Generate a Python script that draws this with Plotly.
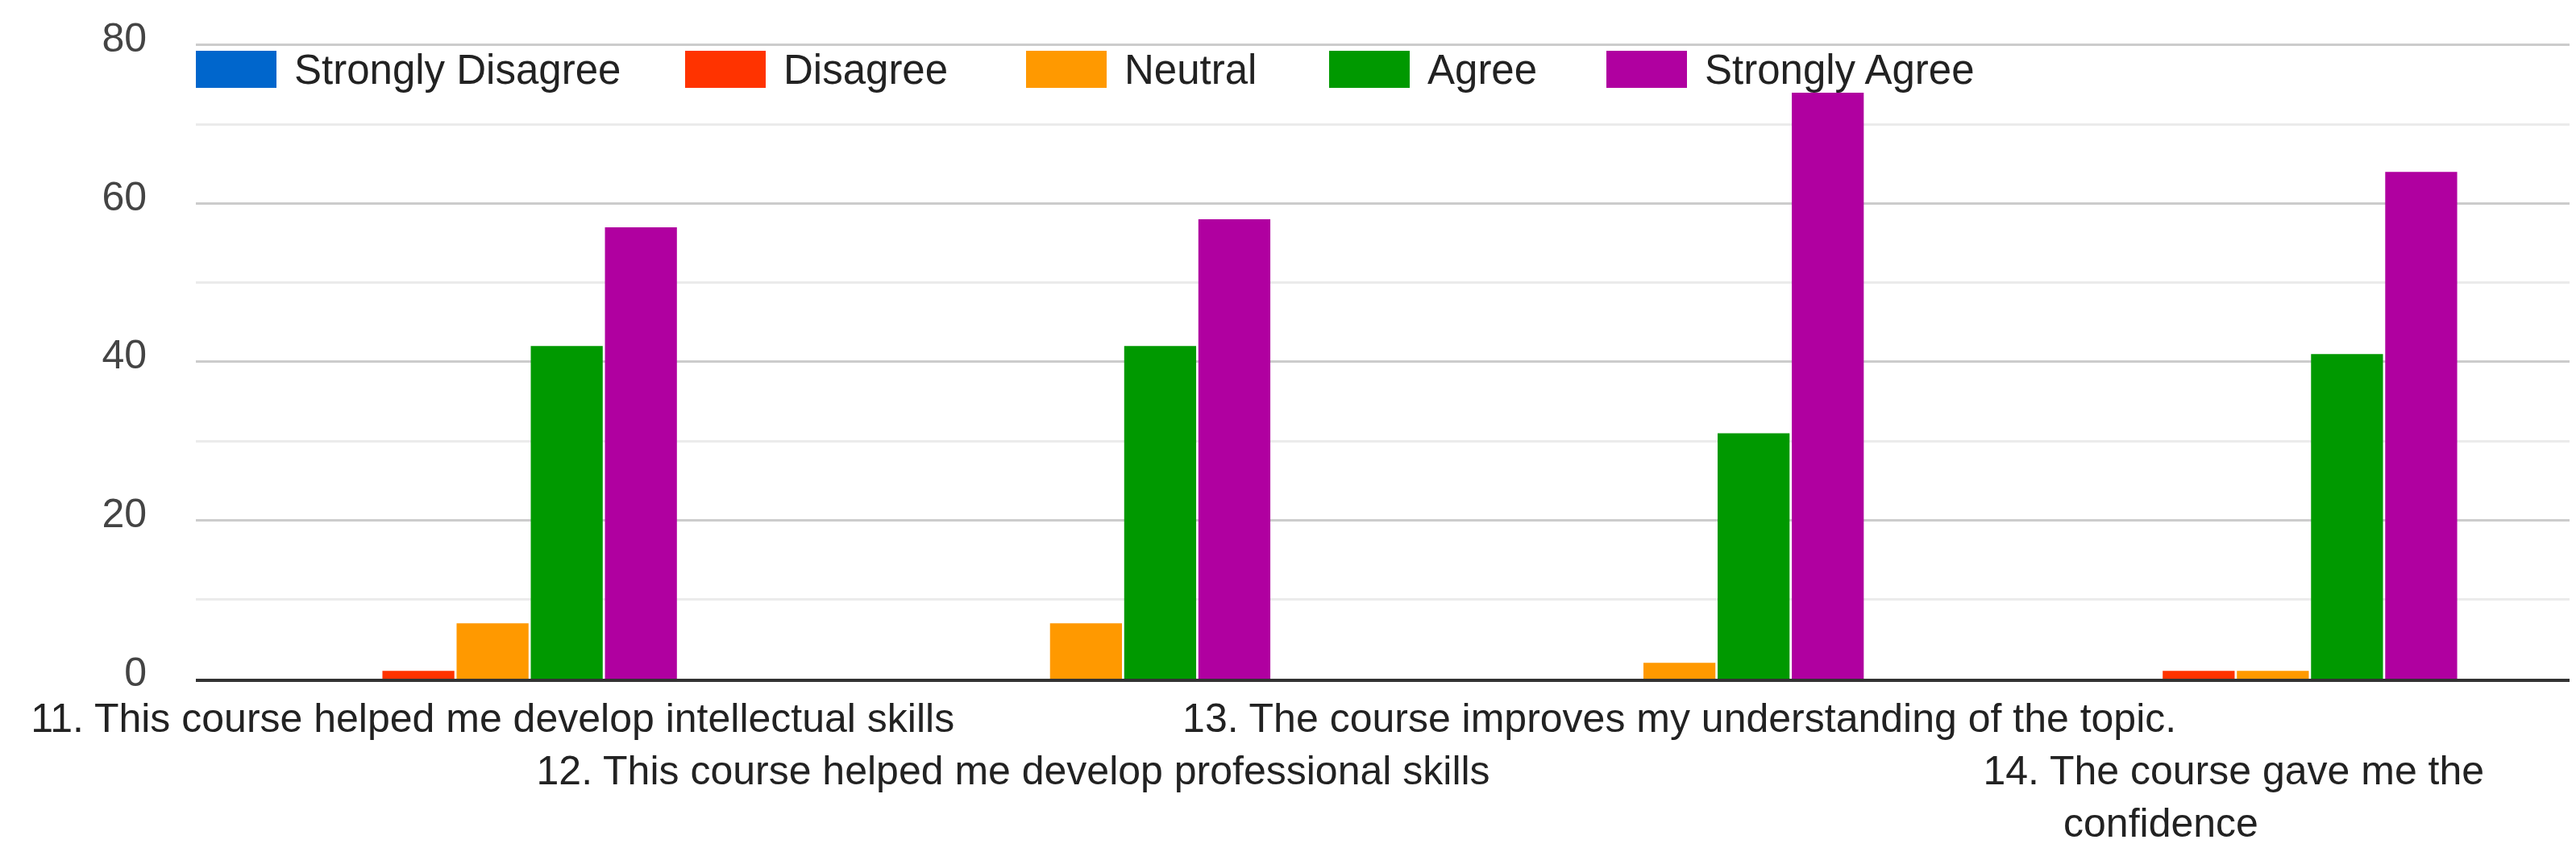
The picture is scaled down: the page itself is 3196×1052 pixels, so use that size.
import plotly.graph_objects as go

# survey items (x categories)
questions = [
    "11. This course helped me develop intellectual skills",
    "12. This course helped me develop professional skills",
    "13. The course improves my understanding of the topic.",
    "14. The course gave me the confidence",
]
# tick labels, staggered on two rows like the original
tick_labels = [
    "11. This course helped me develop intellectual skills",
    "<br>12. This course helped me develop professional skills" + "\u00a0" * 13,
    "13. The course improves my understanding of the topic.",
    "<br>14. The course gave me the" + "\u00a0" * 7 + "<br>confidence" + "\u00a0" * 20,
]

responses = ["Strongly Disagree", "Disagree", "Neutral", "Agree", "Strongly Agree"]
colors = ["#0066cc", "#ff3300", "#ff9900", "#009900", "#b000a0"]

strongly_disagree = [0, 0, 0, 0]
disagree = [1, 0, 0, 1]
neutral = [7, 7, 2, 1]
agree = [42, 42, 31, 41]
strongly_agree = [57, 58, 74, 64]
series = [strongly_disagree, disagree, neutral, agree, strongly_agree]

FONT = "Liberation Sans, Arial, sans-serif"

fig = go.Figure()
for name, vals, col in zip(responses, series, colors):
    fig.add_trace(go.Bar(x=questions, y=vals, name=name,
                         marker=dict(color=col, line=dict(width=0)),
                         showlegend=False))

# plot area in pixels (used only to place the hand-drawn legend)
L, R, T, B = 235, 16, 44, 218
W, H = 3196, 1052
pw, ph = W - L - R, H - T - B

def px(x):
    return (x - L) / pw

def py(y):
    return (H - B - y) / ph

# legend drawn with big swatches like the original
swatch_left = [235, 842, 1265, 1641, 1985]
for name, col, x0 in zip(responses, colors, swatch_left):
    fig.add_shape(type="rect", xref="paper", yref="paper",
                  x0=px(x0), x1=px(x0 + 100), y0=py(101), y1=py(55),
                  fillcolor=col, line=dict(width=0), layer="above")
    fig.add_annotation(xref="paper", yref="paper", x=px(x0 + 120), y=py(78),
                       text=name, showarrow=False, xanchor="left", yanchor="middle",
                       font=dict(family=FONT, size=51, color="#222222"))

fig.update_layout(
    width=W, height=H,
    margin=dict(l=L, r=R, t=T, b=B),
    plot_bgcolor="white", paper_bgcolor="white",
    barmode="group", bargap=0.375, bargroupgap=0.03,
    font=dict(family=FONT),
    xaxis=dict(tickmode="array", tickvals=questions, ticktext=tick_labels,
               tickfont=dict(size=50, color="#222222"), tickangle=0,
               automargin=False,
               showline=True, linecolor="#333333", linewidth=4,
               showgrid=False, ticks="", ticklabelstandoff=2),
    yaxis=dict(range=[0, 80.4], tickvals=[0, 20, 40, 60, 80],
               tickfont=dict(size=50, color="#444444"),
               automargin=False, ticklabelshift=-9,
               showgrid=True, gridcolor="#cccccc", gridwidth=3,
               minor=dict(tickvals=[10, 30, 50, 70], showgrid=True,
                          gridcolor="#ebebeb", gridwidth=3),
               zeroline=False, ticks="", ticklabelstandoff=60),
)

fig.write_html("out.html")
